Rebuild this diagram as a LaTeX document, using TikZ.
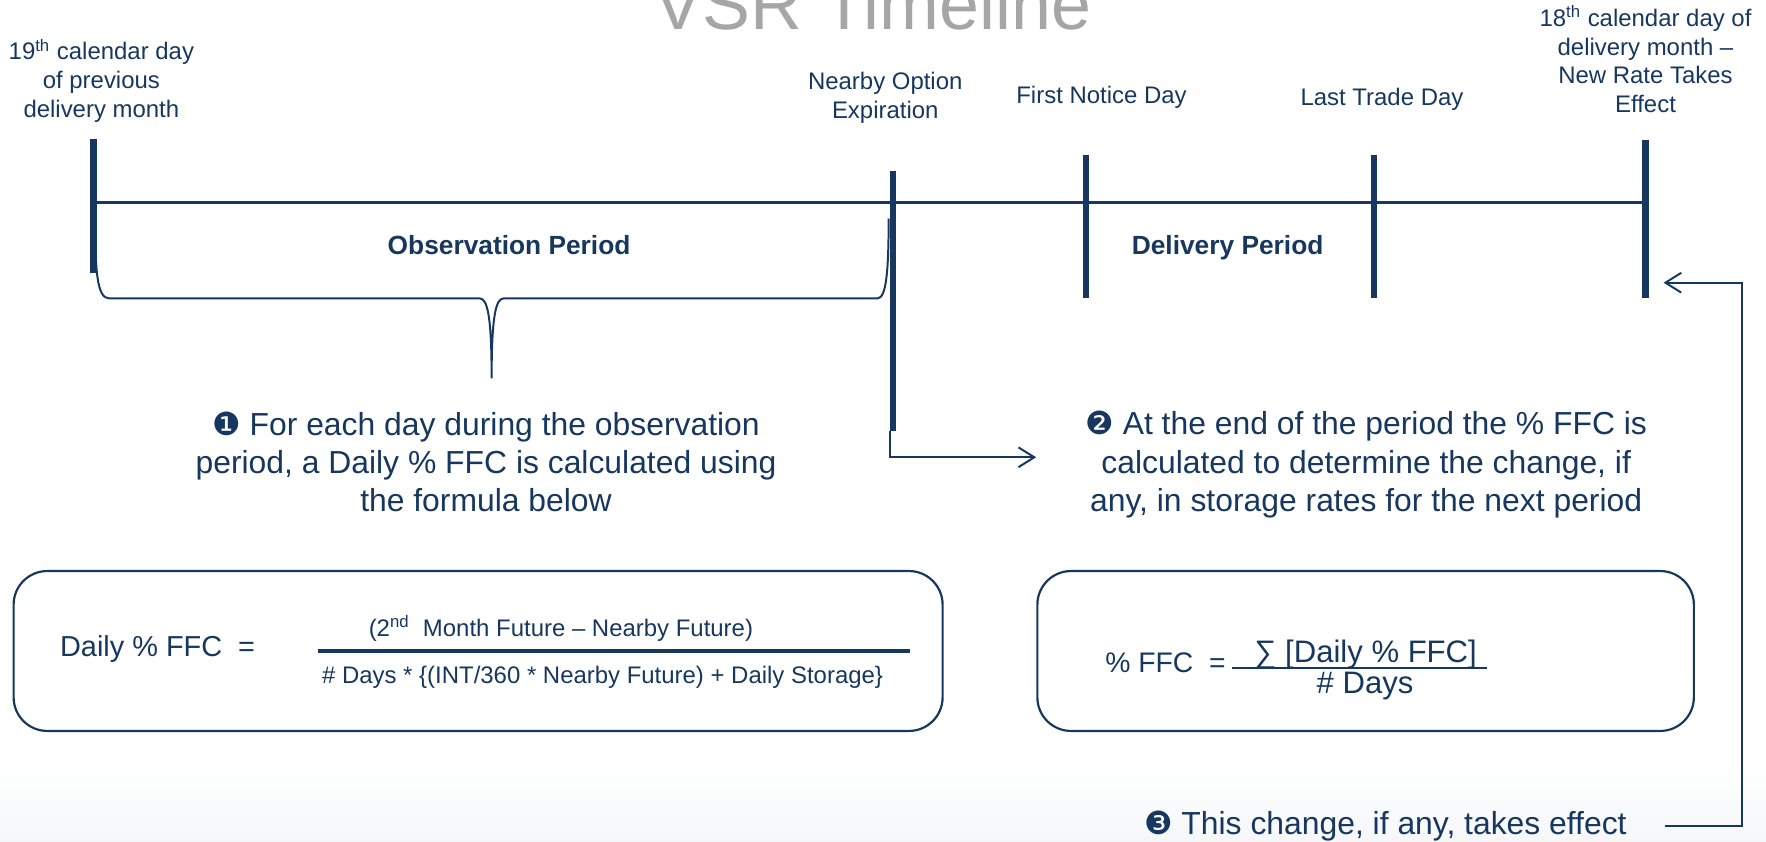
\documentclass[tikz,border=0pt]{standalone}
\usepackage{fontspec}
\setmainfont{Liberation Sans}
\newfontfamily\dingfont{DejaVu Sans}
\usepackage{tikz}
\usetikzlibrary{arrows.meta, positioning, calc}
\usepackage{xcolor}
\definecolor{vsrnavy}{HTML}{17375E}
\definecolor{vsrgray}{HTML}{A6A6A6}
\definecolor{vsrshade}{HTML}{F5F7F9}

\begin{document}
\begin{tikzpicture}[
  x=0.02cm, y=-0.02cm,
  tick/.style={vsrnavy, line width=3.2pt},
  axis/.style={vsrnavy, line width=1.3pt},
  brace/.style={vsrnavy, line width=1pt},
  datelabel/.style={vsrnavy, align=center, anchor=base, inner sep=0pt,
    font=\fontsize{12.1}{14.5}\selectfont},
  period/.style={vsrnavy, anchor=base, inner sep=0pt,
    font=\fontsize{13.3}{16}\selectfont\bfseries},
  note/.style={vsrnavy, align=center, anchor=base, inner sep=0pt,
    font=\fontsize{16.1}{19.35}\selectfont},
  fbox/.style={draw=vsrnavy, line width=1.1pt, rounded corners=17pt, inner sep=0pt},
  ftext/.style={vsrnavy, anchor=base, inner sep=0pt},
  link/.style={vsrnavy, line width=1pt, -{Straight Barb[length=8pt, width=10pt]}}
]
  \useasboundingbox (0,0) rectangle (1568,747);
  \fill[top color=white, bottom color=vsrshade] (0,680) rectangle (1568,747);

  % --- Title ---
  \node[vsrgray, anchor=base, inner sep=0pt, font=\fontsize{36.3}{40}\selectfont]
    (title) at (775,26) {VSR Timeline};

  % --- Timeline ---
  \draw[axis] (83,180) -- (1461,180);
  \foreach \x/\ya/\yb/\n in {83/123/242/t1, 793/152/383/t2, 964/138/265/t3,
                              1220/138/265/t4, 1461/124/265/t5} {
    \draw[tick] (\x,\ya) coordinate (\n top) -- (\x,\yb) coordinate (\n bot);
  }

  % Dates
  \node[datelabel] (d1) at (90,104)
    {19\textsuperscript{th} calendar day\\of previous\\delivery month};
  \node[datelabel] (d2) at (786,105) {Nearby Option\\Expiration};
  \node[datelabel] (d3) at (978,92) {First Notice Day};
  \node[datelabel] (d4) at (1227,94) {Last Trade Day};
  \node[datelabel] (d5) at (1461,100)
    {18\textsuperscript{th} calendar day of\\delivery month –\\New Rate Takes\\Effect};

  % Periods
  \node[period] (obs) at (452,226) {Observation Period};
  \node[period] (dlv) at (1090,226) {Delivery Period};

  % Brace under the observation period
  \draw[brace] (84.5,194) .. controls (84.5,240) and (86,265) .. (97,265)
    -- (426,265) .. controls (433,265) and (436.5,282) .. (436.5,336)
    .. controls (436.5,282) and (440,265) .. (447,265)
    -- (779,265) .. controls (787,265) and (789,240) .. (789,194);

  % --- Notes ---
  \node[note] (note1) at (431.5,454.5)
    {{\dingfont ❶} For each day during the observation\\period, a Daily \% FFC is calculated using\\the formula below};
  \node[note] (note2) at (1213,454)
    {{\dingfont ❷} At the end of the period the \% FFC is\\calculated to determine the change, if\\any, in storage rates for the next period};
  \node[note] (note3) at (1230,741)
    {{\dingfont ❸} This change, if any, takes effect};

  % --- Formula boxes ---
  \node[fbox, minimum width=16.5cm, minimum height=2.84cm] (box1) at (424.5,578) {};
  \node[fbox, minimum width=11.66cm, minimum height=2.84cm] (box2) at (1212.5,578) {};

  \node[ftext, anchor=base west, font=\fontsize{14.6}{17}\selectfont]
    (f1lhs) at (53,582.5) {Daily \% FFC~~=};
  \draw[vsrnavy, line width=2pt] (282,578) -- (808,578);
  \node[ftext, font=\fontsize{12.1}{14}\selectfont] (f1num) at (498,565)
    {(2\textsuperscript{nd}~~Month Future – Nearby Future)};
  \node[ftext, font=\fontsize{12.1}{14}\selectfont] (f1den) at (535,607)
    {\# Days * \{(INT/360 * Nearby Future) + Daily Storage\}};

  \node[ftext, anchor=base west, font=\fontsize{14.3}{17}\selectfont]
    (f2lhs) at (981,597) {\% FFC~~=};
  \draw[vsrnavy, line width=1pt] (1094,593) -- (1320,593);
  \node[ftext, font=\fontsize{15.7}{18}\selectfont] (f2num) at (1212.5,588.5)
    {∑ [Daily \% FFC]};
  \node[ftext, font=\fontsize{15.7}{18}\selectfont] (f2den) at (1212,616) {\# Days};

  % --- Connectors ---
  \coordinate (a2end) at (920,406);
  \draw[link] ([xshift=-0.05cm]t2bot) |- (a2end);
  \coordinate (a3start) at (1478,733);
  \coordinate (a3turn) at (1546.5,733);
  \coordinate (a3end) at (1477,251);
  \draw[link] (a3start) -- (a3turn) |- (a3end);
\end{tikzpicture}
\end{document}
